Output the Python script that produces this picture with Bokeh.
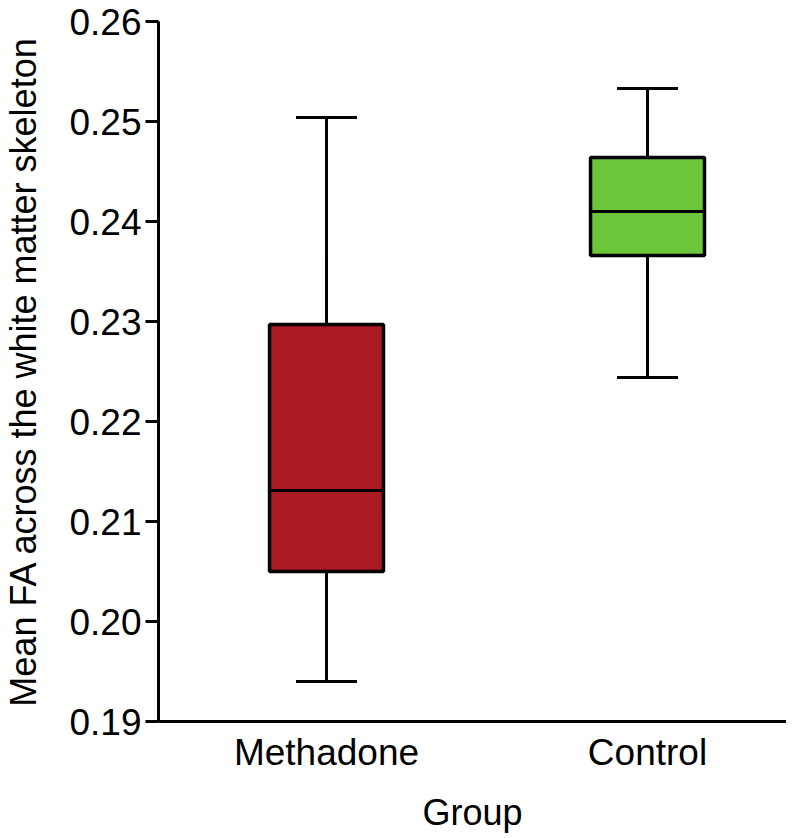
from bokeh.plotting import figure
from bokeh.models import Range1d, FixedTicker, NumeralTickFormatter, ColumnDataSource
from bokeh.embed import file_html
from bokeh.resources import INLINE

# ---- data ----
groups = ["Methadone", "Control"]
positions = [1, 2]
lower_whisker = [0.1940, 0.2244]
q1 = [0.2050, 0.2366]
median = [0.2131, 0.2410]
q3 = [0.2297, 0.2464]
upper_whisker = [0.2504, 0.2533]
colors = ["#AB1A22", "#6BC63A"]
y_ticks = [0.19, 0.20, 0.21, 0.22, 0.23, 0.24, 0.25, 0.26]

box_w = 0.355
cap_w = 0.19

FONT = "Liberation Sans"

p = figure(
    frame_width=628, frame_height=700,
    x_range=Range1d(0.4766, 2.4330), y_range=Range1d(0.19, 0.26),
    output_backend="svg", toolbar_location=None,
    min_border_left=154, min_border_top=21, min_border_right=0, min_border_bottom=0,
)
p.outline_line_color = None
p.grid.visible = False
p.background_fill_color = "white"
p.border_fill_color = "white"

src = ColumnDataSource(dict(
    x=positions, lw=lower_whisker, q1=q1, med=median, q3=q3, uw=upper_whisker,
    color=colors,
    cl=[x - cap_w / 2 for x in positions], cr=[x + cap_w / 2 for x in positions],
    bl=[x - box_w / 2 for x in positions], br=[x + box_w / 2 for x in positions],
))

# whiskers
p.segment(x0="x", y0="q3", x1="x", y1="uw", source=src, line_color="black", line_width=3)
p.segment(x0="x", y0="lw", x1="x", y1="q1", source=src, line_color="black", line_width=3)
# caps
p.segment(x0="cl", y0="uw", x1="cr", y1="uw", source=src, line_color="black", line_width=3)
p.segment(x0="cl", y0="lw", x1="cr", y1="lw", source=src, line_color="black", line_width=3)
# boxes
p.vbar(x="x", width=box_w, bottom="q1", top="q3", source=src,
       fill_color="color", line_color="black", line_width=3.5)
# medians
p.segment(x0="bl", y0="med", x1="br", y1="med", source=src, line_color="black", line_width=3)

# y axis
ya = p.yaxis[0]
ya.ticker = FixedTicker(ticks=y_ticks)
ya.formatter = NumeralTickFormatter(format="0.00")
ya.axis_label = "Mean FA across the white matter skeleton"
ya.axis_line_width = 3
ya.major_tick_line_width = 3
ya.major_tick_out = 13
ya.major_tick_in = 0
ya.minor_tick_out = 0
ya.minor_tick_in = 0
ya.major_label_standoff = 4
ya.axis_label_standoff = 22

# x axis
xa = p.xaxis[0]
xa.ticker = FixedTicker(ticks=positions)
xa.major_label_overrides = {pos: g for pos, g in zip(positions, groups)}
xa.axis_label = "Group"
xa.axis_line_width = 3
xa.major_tick_out = 0
xa.major_tick_in = 0
xa.minor_tick_out = 0
xa.minor_tick_in = 0
xa.major_label_standoff = 10
xa.axis_label_standoff = 16

for ax in (xa, ya):
    ax.major_label_text_font = FONT
    ax.major_label_text_font_size = "37px"
    ax.major_label_text_color = "black"
    ax.axis_label_text_font = FONT
    ax.axis_label_text_font_size = "36px"
    ax.axis_label_text_font_style = "normal"
    ax.axis_label_text_color = "black"
    ax.axis_line_color = "black"
    ax.major_tick_line_color = "black"

open("out.html", "w").write(file_html(p, INLINE))
